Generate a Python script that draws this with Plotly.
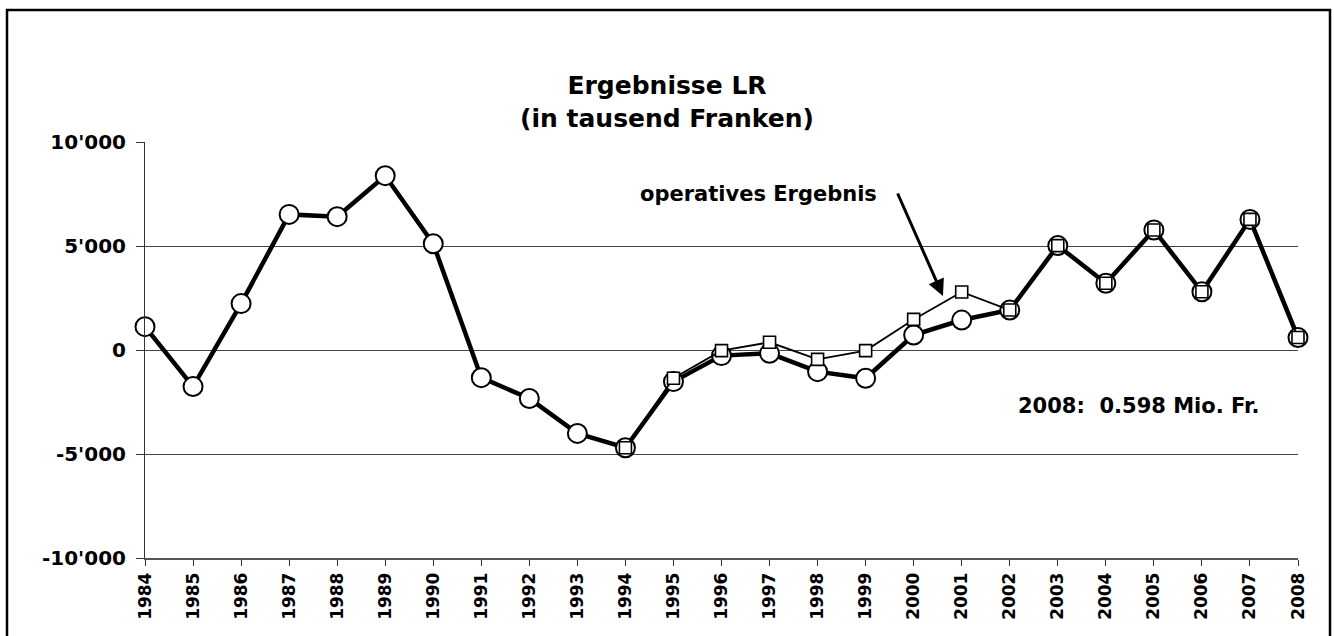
import plotly.graph_objects as go

years = list(range(1984, 2009))
ergebnis = [1120, -1760, 2230, 6520, 6410, 8380, 5110, -1330, -2330, -4010, -4700,
            -1520, -270, -160, -1040, -1360, 720, 1440, 1920, 5020, 3210, 5770, 2800, 6280, 598]
op_years = list(range(1994, 2009))
operativ = [-4700, -1360, -30, 370, -450, -30, 1470, 2790, 1920, 5020, 3210, 5770, 2800, 6280, 598]

ytick_vals = [-10000, -5000, 0, 5000, 10000]
ytick_text = ["-10'000", "-5'000", "0", "5'000", "10'000"]

FONT = "DejaVu Sans"
W, H = 1334, 636
L, R, T, B = 145, 36, 142, 78
PW, PH = W - L - R, H - T - B

def px2paper_x(px):
    return (px - L) / PW

def px2paper_y(py):
    return (H - B - py) / PH

fig = go.Figure()
fig.add_trace(go.Scatter(
    x=years, y=ergebnis, mode="lines+markers", name="Ergebnis",
    line=dict(color="black", width=4.5),
    marker=dict(symbol="circle", size=19, color="white", line=dict(color="black", width=2)),
    cliponaxis=False, showlegend=False))
fig.add_trace(go.Scatter(
    x=op_years, y=operativ, mode="lines+markers", name="operatives Ergebnis",
    line=dict(color="black", width=1.8),
    marker=dict(symbol="square", size=12, color="white", line=dict(color="black", width=1.6)),
    cliponaxis=False, showlegend=False))

fig.update_layout(
    width=W, height=H,
    margin=dict(l=L, r=R, t=T, b=B),
    paper_bgcolor="white", plot_bgcolor="white",
    font=dict(family=FONT, color="black"),
    title=dict(text="<b>Ergebnisse LR</b><br><b>(in tausend Franken)</b>",
               x=667 / W, xref="container", xanchor="center",
               y=1 - 94 / H, yref="container", yanchor="top",
               font=dict(family=FONT, size=25, color="black")),
    xaxis=dict(range=[1984, 2008], tickvals=years, ticktext=[f"<b>{y}</b>" for y in years],
               tickangle=-90, ticks="outside", ticklen=6, tickcolor="#333",
               showline=True, linecolor="#555", linewidth=1.5,
               showgrid=False, zeroline=False,
               tickfont=dict(family=FONT, size=17, color="black")),
    yaxis=dict(range=[-10000, 10000], tickvals=ytick_vals, ticktext=[f"<b>{t}</b>" for t in ytick_text],
               ticks="outside", ticklen=8, tickcolor="#333", ticklabelstandoff=6,
               showline=True, linecolor="#333", linewidth=1,
               showgrid=True, gridcolor="#444", gridwidth=1, zeroline=False,
               tickfont=dict(family=FONT, size=20, color="black")),
)

fig.add_annotation(x=1996.76, y=7500, text="<b>operatives Ergebnis</b>", showarrow=False,
                   font=dict(family=FONT, size=21, color="black"))
fig.add_annotation(x=2000.61, y=2596, ax=-46, ay=-104, text="", showarrow=True,
                   arrowhead=2, arrowsize=1.1, arrowwidth=3, arrowcolor="black")
fig.add_annotation(x=2004.69, y=-2692, text="<b>2008:&nbsp; 0.598 Mio. Fr.</b>", showarrow=False,
                   font=dict(family=FONT, size=21, color="black"))

fig.add_shape(type="rect", xref="paper", yref="paper",
              x0=px2paper_x(7), x1=px2paper_x(1330), y0=px2paper_y(H + 20), y1=px2paper_y(10),
              line=dict(color="black", width=2.5), fillcolor="rgba(0,0,0,0)", layer="above")

fig.write_html("out.html", config={"displayModeBar": False},
               post_script="document.body.style.margin='0';document.documentElement.style.overflow='hidden';")
